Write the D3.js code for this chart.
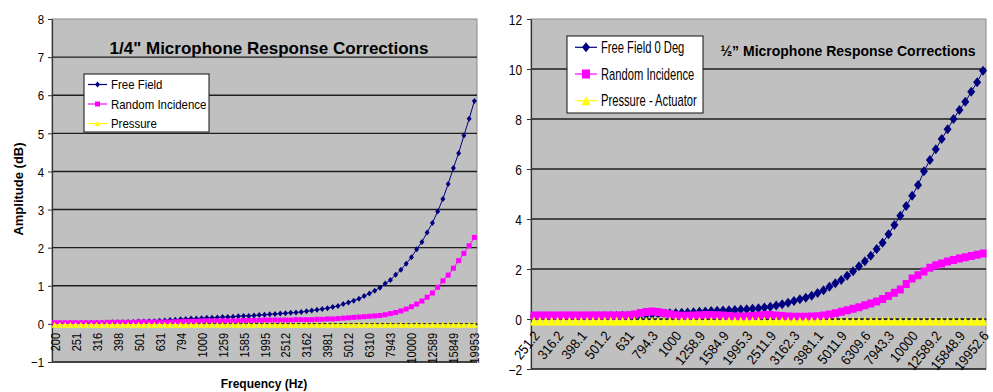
<!DOCTYPE html>
<html><head><meta charset="utf-8">
<script src="https://cdn.jsdelivr.net/npm/d3@7"></script>
<style>
html,body{margin:0;padding:0;background:#fff;}
svg{display:block;}
text{font-family:"Liberation Sans",Arial,sans-serif;fill:#000;}
</style></head><body>
<svg id="c" width="993" height="392"></svg>
<script>
// ---------- DATA ----------
const quarterTitle = "1/4\" Microphone Response Corrections";
const quarterSeriesNames = ["Free Field", "Random Incidence", "Pressure"];
const quarterTickLabels = ["200","251","316","398","501","631","794","1000","1259","1585","1995","2512","3162","3981","5012","6310","7943","10000","12589","15849","19953"];
const quarterYTicks = [-1,0,1,2,3,4,5,6,7,8];
const quarterFreeField = [
 0.01,0.01,0.01,0.02,0.02,0.02,0.02,0.03,0.03,0.03,
 0.03,0.04,0.04,0.04,0.05,0.05,0.06,0.06,0.07,0.07,
 0.08,0.09,0.10,0.11,0.12,0.13,0.14,0.14,0.15,0.16,
 0.16,0.17,0.18,0.18,0.19,0.20,0.21,0.21,0.22,0.23,
 0.24,0.25,0.26,0.27,0.28,0.29,0.30,0.31,0.33,0.35,
 0.37,0.39,0.41,0.44,0.47,0.52,0.56,0.61,0.66,0.73,
 0.80,0.87,0.95,1.06,1.15,1.29,1.42,1.58,1.75,1.96,
 2.15,2.40,2.65,2.95,3.28,3.67,4.09,4.48,4.94,5.38,
 5.85];
const quarterRandom = [
 0.03,0.03,0.03,0.03,0.03,0.03,0.03,0.03,0.03,0.03,
 0.04,0.04,0.04,0.04,0.04,0.04,0.05,0.05,0.05,0.05,
 0.05,0.05,0.05,0.06,0.06,0.07,0.07,0.07,0.08,0.08,
 0.08,0.08,0.08,0.08,0.08,0.08,0.09,0.09,0.09,0.09,
 0.10,0.10,0.10,0.10,0.10,0.10,0.11,0.11,0.11,0.11,
 0.12,0.12,0.13,0.13,0.14,0.15,0.16,0.17,0.18,0.19,
 0.20,0.21,0.22,0.24,0.27,0.30,0.34,0.39,0.45,0.52,
 0.60,0.70,0.81,0.96,1.13,1.28,1.46,1.66,1.85,2.05,
 2.27];
const quarterPressure = [
 -0.02,-0.02,-0.02,-0.02,-0.02,-0.02,-0.02,-0.02,-0.02,-0.02,
 -0.02,-0.02,-0.02,-0.02,-0.02,-0.02,-0.02,-0.02,-0.02,-0.02,
 -0.02,-0.02,-0.02,-0.02,-0.02,-0.02,-0.02,-0.02,-0.02,-0.02,
 -0.02,-0.02,-0.02,-0.02,-0.02,-0.02,-0.02,-0.02,-0.02,-0.02,
 -0.02,-0.02,-0.02,-0.02,-0.02,-0.02,-0.02,-0.02,-0.02,-0.02,
 -0.02,-0.02,-0.02,-0.02,-0.02,-0.02,-0.02,-0.02,-0.02,-0.02,
 -0.02,-0.02,-0.02,-0.02,-0.02,-0.02,-0.02,-0.02,-0.02,-0.02,
 -0.02,-0.02,-0.02,-0.02,-0.02,-0.02,-0.02,-0.02,-0.02,-0.02,
 -0.02];

const halfTitle = "\u00BD\u201D Microphone Response Corrections";
const halfSeriesNames = ["Free Field 0 Deg", "Random Incidence", "Pressure - Actuator"];
const halfTickLabels = ["251.2","316.2","398.1","501.2","631","794.3","1000","1258.9","1584.9","1995.3","2511.9","3162.3","3981.1","5011.9","6309.6","7943.3","10000","12589.2","15848.9","19952.6"];
const halfYTicks = [-2,0,2,4,6,8,10,12];
const halfFreeField = [
 0.10,0.10,0.10,0.10,0.10,0.10,0.10,0.10,0.10,0.10,
 0.11,0.11,0.12,0.12,0.12,0.13,0.13,0.14,0.15,0.17,
 0.19,0.21,0.22,0.23,0.24,0.25,0.26,0.27,0.29,0.30,
 0.32,0.33,0.34,0.35,0.36,0.38,0.39,0.41,0.43,0.46,
 0.49,0.54,0.59,0.65,0.72,0.79,0.85,0.93,1.04,1.15,
 1.29,1.43,1.56,1.73,1.91,2.11,2.31,2.53,2.80,3.05,
 3.39,3.76,4.13,4.52,4.93,5.36,5.91,6.36,6.79,7.20,
 7.59,8.00,8.36,8.69,9.09,9.47,9.93];
const halfRandom = [
 0.14,0.14,0.14,0.14,0.14,0.14,0.14,0.14,0.14,0.14,
 0.14,0.14,0.14,0.14,0.14,0.14,0.15,0.18,0.24,0.28,
 0.30,0.28,0.24,0.19,0.15,0.13,0.13,0.14,0.15,0.16,
 0.16,0.15,0.14,0.12,0.10,0.10,0.10,0.12,0.14,0.16,
 0.16,0.14,0.12,0.10,0.09,0.09,0.09,0.10,0.11,0.14,
 0.18,0.23,0.29,0.35,0.41,0.47,0.55,0.62,0.70,0.80,
 0.92,1.05,1.18,1.40,1.62,1.75,1.90,2.05,2.15,2.22,
 2.30,2.36,2.42,2.47,2.52,2.57,2.62];
const halfPressure = [
 -0.08,-0.08,-0.08,-0.08,-0.08,-0.08,-0.08,-0.08,-0.08,-0.08,
 -0.08,-0.08,-0.08,-0.08,-0.08,-0.08,-0.08,-0.08,-0.08,-0.08,
 -0.08,-0.08,-0.08,-0.08,-0.08,-0.08,-0.08,-0.08,-0.08,-0.08,
 -0.08,-0.08,-0.08,-0.08,-0.08,-0.08,-0.08,-0.08,-0.08,-0.08,
 -0.08,-0.08,-0.08,-0.08,-0.08,-0.08,-0.08,-0.08,-0.08,-0.08,
 -0.08,-0.08,-0.08,-0.08,-0.08,-0.08,-0.08,-0.08,-0.08,-0.08,
 -0.08,-0.08,-0.08,-0.08,-0.08,-0.08,-0.08,-0.08,-0.08,-0.08,
 -0.08,-0.08,-0.08,-0.08,-0.08,-0.08,-0.08];

// ---------- DRAWING ----------
const shapes = {
  diamond: (w,h) => `M0,${-h/2}L${w/2},0L0,${h/2}L${-w/2},0Z`,
  square: (w,h) => `M${-w/2},${-h/2}h${w}v${h}h${-w}Z`,
  triangle: (w,h) => `M0,${-h/2}L${w/2},${h/2}L${-w/2},${h/2}Z`
};
const svg = d3.select("#c");

function drawChart(cfg){
  const g = svg.append("g");
  const n = cfg.series[0].values.length;
  const x = d3.scalePoint().domain(d3.range(n)).range([cfg.x0, cfg.x1]).padding(0.5);
  const y = d3.scaleLinear().domain(cfg.yDomain).range([cfg.y1, cfg.y0]);

  g.append("rect").attr("x",cfg.x0).attr("y",cfg.y0)
    .attr("width",cfg.x1-cfg.x0).attr("height",cfg.y1-cfg.y0)
    .attr("fill",cfg.bg).attr("stroke","#8a8a8a").attr("stroke-width",1);

  // gridlines
  g.append("g").selectAll("line").data(cfg.yTicks.filter(t => t !== cfg.yDomain[1]))
    .join("line")
    .attr("x1",cfg.x0).attr("x2",cfg.x1)
    .attr("y1",d=>y(d)).attr("y2",d=>y(d))
    .attr("stroke","#1e1e1e").attr("stroke-width",cfg.gridW);

  // y axis
  const yAx = g.append("g").attr("transform",`translate(${cfg.x0},0)`)
    .call(d3.axisLeft(y).tickValues(cfg.yTicks).tickSize(4).tickSizeOuter(0).tickFormat(d3.format("d")));
  yAx.attr("font-size",null).attr("font-family",null);
  yAx.select(".domain").attr("stroke","#333").attr("stroke-width",1.2);
  yAx.selectAll(".tick line").attr("stroke","#333");
  yAx.selectAll(".tick text")
    .attr("x",null).attr("dy",null)
    .attr("font-size",cfg.yFont)
    .attr("text-anchor","end")
    .attr("transform",`translate(${-cfg.yLabelGap},${cfg.yFont*0.36}) scale(${cfg.yScaleX},1)`);

  // x axis at value 0
  const every = (n-1)/(cfg.tickLabels.length-1);
  const xAx = g.append("g").attr("transform",`translate(0,${y(0)})`)
    .call(d3.axisBottom(x).tickValues(cfg.tickLabels.map((_,k)=>k*every))
      .tickFormat(i=>cfg.tickLabels[i/every]).tickSize(3).tickSizeOuter(0));
  xAx.attr("font-size",null).attr("font-family",null);
  xAx.select(".domain").attr("stroke","#222").attr("stroke-width",1.2);
  xAx.selectAll(".tick line").attr("stroke","#222");
  xAx.selectAll(".tick text")
    .attr("y",null).attr("dy",null)
    .attr("font-size",cfg.xFont)
    .attr("text-anchor","end")
    .attr("transform",`translate(${cfg.xLabelDx},${cfg.xLabelDy}) rotate(${cfg.xAngle}) scale(${cfg.xScaleX},1)`);

  // series
  cfg.series.forEach(s=>{
    const line = d3.line().x((d,i)=>x(i)).y(d=>y(d));
    g.append("path").attr("d",line(s.values)).attr("fill","none")
      .attr("stroke",s.color).attr("stroke-width",1);
    g.append("g").selectAll("path").data(s.values).join("path")
      .attr("transform",(d,i)=>`translate(${x(i)},${y(d)})`)
      .attr("d",shapes[s.shape](s.mw,s.mh))
      .attr("fill",s.color);
  });

  // legend
  const L = cfg.legend;
  g.append("rect").attr("x",L.x).attr("y",L.y).attr("width",L.w).attr("height",L.h)
    .attr("fill","#fff").attr("stroke","#111").attr("stroke-width",1);
  cfg.series.forEach((s,k)=>{
    const cy = L.y + L.first + k*L.step;
    g.append("line").attr("x1",L.lx1).attr("x2",L.lx2).attr("y1",cy).attr("y2",cy)
      .attr("stroke",s.color).attr("stroke-width",1.2);
    g.append("path").attr("transform",`translate(${(L.lx1+L.lx2)/2},${cy})`)
      .attr("d",shapes[s.shape](s.lw,s.lh)).attr("fill",s.color);
    g.append("text").attr("transform",`translate(${L.tx},${cy+L.font*0.36}) scale(${L.sx},1)`)
      .attr("font-size",L.font).text(s.name);
  });
  return {g,x,y};
}

// Left chart
const left = drawChart({
  x0:52, x1:477, y0:19, y1:362, yDomain:[-1,8], yTicks:quarterYTicks, bg:"#c0c0c0", gridW:1.4,
  yFont:13, yScaleX:0.88, yLabelGap:8,
  tickLabels:quarterTickLabels, xFont:13, xScaleX:0.85, xAngle:-90, xLabelDx:4.5, xLabelDy:9,
  series:[
    {name:quarterSeriesNames[0], values:quarterFreeField, color:"#000080", shape:"diamond", mw:5, mh:6, lw:5, lh:6},
    {name:quarterSeriesNames[1], values:quarterRandom, color:"#ff00ff", shape:"square", mw:5, mh:5, lw:5, lh:5},
    {name:quarterSeriesNames[2], values:quarterPressure, color:"#ffff00", shape:"triangle", mw:6, mh:6, lw:6, lh:5}
  ],
  legend:{x:84, y:74, w:125, h:58, first:10.5, step:19.5, lx1:88, lx2:107, tx:111, font:13, sx:0.88}
});
left.g.append("text").attr("x",269).attr("y",54).attr("text-anchor","middle")
  .attr("font-size",17).attr("font-weight","bold").text(quarterTitle);
left.g.append("text").attr("transform","translate(22.5,189) rotate(-90)").attr("text-anchor","middle")
  .attr("font-size",13).attr("font-weight","bold").text("Amplitude (dB)");
left.g.append("text").attr("x",264).attr("y",388).attr("text-anchor","middle")
  .attr("font-size",12).attr("font-weight","bold").text("Frequency (Hz)");

// Right chart
const right = drawChart({
  x0:531, x1:986, y0:19, y1:369, yDomain:[-2,12], yTicks:halfYTicks, bg:"#c0c0c0", gridW:1.5,
  yFont:14, yScaleX:0.85, yLabelGap:9,
  tickLabels:halfTickLabels, xFont:14, xScaleX:0.9, xAngle:-51, xLabelDx:6, xLabelDy:17,
  series:[
    {name:halfSeriesNames[0], values:halfFreeField, color:"#000080", shape:"diamond", mw:8, mh:10, lw:8, lh:10},
    {name:halfSeriesNames[1], values:halfRandom, color:"#ff00ff", shape:"square", mw:7, mh:8, lw:8, lh:9},
    {name:halfSeriesNames[2], values:halfPressure, color:"#ffff00", shape:"triangle", mw:8, mh:9, lw:9, lh:9}
  ],
  legend:{x:567, y:36, w:136, h:77, first:11.3, step:26.7, lx1:575, lx2:597, tx:601, font:16, sx:0.70}
});
right.g.append("text").attr("x",848).attr("y",56).attr("text-anchor","middle")
  .attr("font-family","Lato, 'Open Sans', sans-serif")
  .attr("font-size",14).attr("font-weight","bold")
  .text(halfTitle);
</script>
</body></html>
